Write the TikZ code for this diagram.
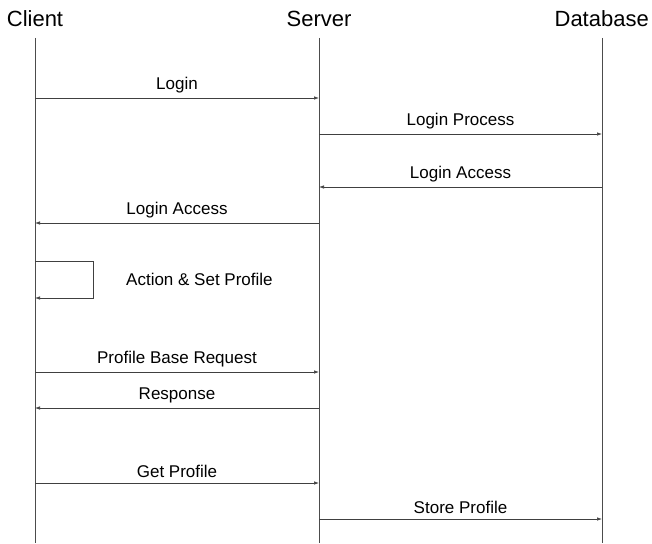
\documentclass[tikz,border=0pt]{standalone}
\usepackage{fontspec}
\setmainfont{Liberation Sans}
\usetikzlibrary{arrows.meta}
\begin{document}
\begin{tikzpicture}[x=1pt,y=-1pt,
  lifeline/.style={draw=black!70,line width=0.8pt},
  msg/.style={draw=black!75,line width=0.7pt,-{Latex[length=5pt,width=3.5pt]}},
  head/.style={font=\fontsize{22}{26}\selectfont,inner sep=0pt},
  lbl/.style={font=\fontsize{17}{20}\selectfont,inner sep=0pt}]
\useasboundingbox (0,0) rectangle (652,543);
% headings
\node[head] (client) at (35,19) {Client};
\node[head] (server) at (319,19) {Server};
\node[head,anchor=east] (db) at (649,19) {Database};
% lifelines
\coordinate (cT) at (35,38);  \coordinate (cB) at (35,543);
\coordinate (sT) at (319,38); \coordinate (sB) at (319,543);
\coordinate (dT) at (602,38); \coordinate (dB) at (602,543);
\draw[lifeline] (cT) -- (cB);
\draw[lifeline] (sT) -- (sB);
\draw[lifeline] (dT) -- (dB);
% message anchors
\foreach \n/\y in {1/98,2/134,3/187,4/223,5/372,6/408,7/483,8/519}{
  \coordinate (c\n) at (35,\y);
  \coordinate (s\n) at (319,\y);
  \coordinate (d\n) at (602,\y);
}
\draw[msg] (c1) -- node[lbl,above=5pt] (l1) {Login} (s1);
\draw[msg] (s2) -- node[lbl,above=5pt] (l2) {Login Process} (d2);
\draw[msg] (d3) -- node[lbl,above=5pt] (l3) {Login Access} (s3);
\draw[msg] (s4) -- node[lbl,above=5pt] (l4) {Login Access} (c4);
\draw[msg] (c5) -- node[lbl,above=5pt] (l5) {Profile Base Request} (s5);
\draw[msg] (s6) -- node[lbl,above=5pt] (l6) {Response} (c6);
\draw[msg] (c7) -- node[lbl,above=5pt] (l7) {Get Profile} (s7);
\draw[msg] (s8) -- node[lbl,above=5pt] (l8) {Store Profile} (d8);
% self message
\coordinate (selfA) at (35,261);
\coordinate (selfB) at (35,298);
\draw[msg] (selfA) -- (93,261) -- (93,298) -- (selfB);
\node[lbl,anchor=west] (self) at (126,279) {Action \& Set Profile};
\end{tikzpicture}
\end{document}
